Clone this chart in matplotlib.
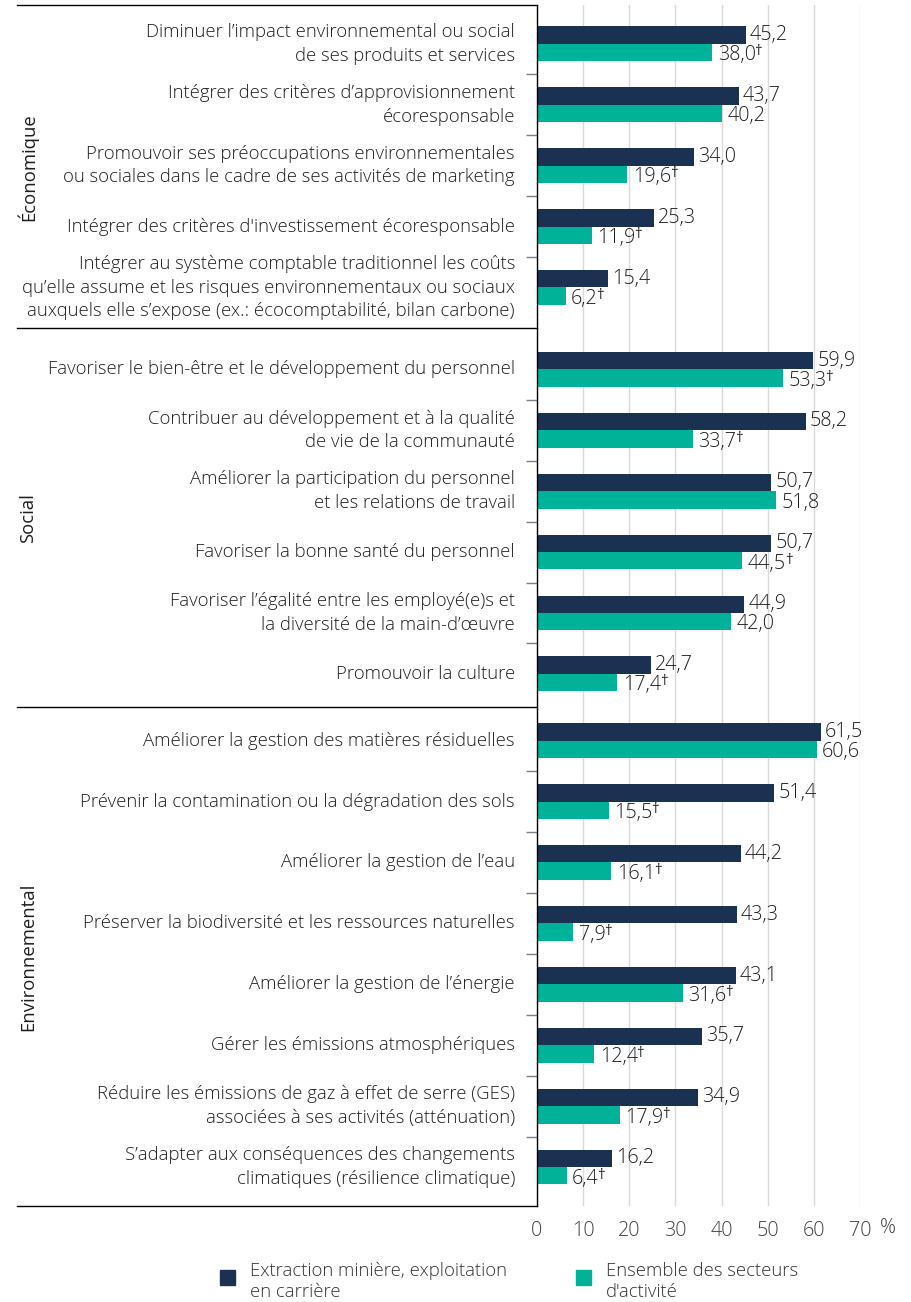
import matplotlib
matplotlib.use('Agg')
import matplotlib.pyplot as plt
from matplotlib.patches import Rectangle
import matplotlib.transforms as mtransforms

plt.rcParams['font.family'] = ['Open Sans', 'DejaVu Sans']

groups = ['Économique', 'Social', 'Environnemental']
group_sizes = [5, 6, 8]

categories = [
    "Diminuer l’impact environnemental ou social\nde ses produits et services",
    "Intégrer des critères d’approvisionnement\nécoresponsable",
    "Promouvoir ses préoccupations environnementales\nou sociales dans le cadre de ses activités de marketing",
    "Intégrer des critères d'investissement écoresponsable",
    "Intégrer au système comptable traditionnel les coûts\nqu’elle assume et les risques environnementaux ou sociaux\nauxquels elle s’expose (ex.: écocomptabilité, bilan carbone)",
    "Favoriser le bien-être et le développement du personnel",
    "Contribuer au développement et à la qualité\nde vie de la communauté",
    "Améliorer la participation du personnel\net les relations de travail",
    "Favoriser la bonne santé du personnel",
    "Favoriser l’égalité entre les employé(e)s et\nla diversité de la main-d’œuvre",
    "Promouvoir la culture",
    "Améliorer la gestion des matières résiduelles",
    "Prévenir la contamination ou la dégradation des sols",
    "Améliorer la gestion de l’eau",
    "Préserver la biodiversité et les ressources naturelles",
    "Améliorer la gestion de l’énergie",
    "Gérer les émissions atmosphériques",
    "Réduire les émissions de gaz à effet de serre (GES)\nassociées à ses activités (atténuation)",
    "S’adapter aux conséquences des changements\nclimatiques (résilience climatique)",
]

mining = [45.2, 43.7, 34.0, 25.3, 15.4,
          59.9, 58.2, 50.7, 50.7, 44.9, 24.7,
          61.5, 51.4, 44.2, 43.3, 43.1, 35.7, 34.9, 16.2]
all_sectors = [38.0, 40.2, 19.6, 11.9, 6.2,
               53.3, 33.7, 51.8, 44.5, 42.0, 17.4,
               60.6, 15.5, 16.1, 7.9, 31.6, 12.4, 17.9, 6.4]
significant = [True, False, True, True, True,
               True, True, False, True, False, True,
               False, True, True, True, True, True, True, True]

series_names = ['Extraction minière, exploitation\nen carrière', 'Ensemble des secteurs\nd\'activité']
xticks = [0, 10, 20, 30, 40, 50, 60, 70]

navy = '#1b3152'
teal = '#00b398'
text_col = '#1e1e1e'
wt = 'light'

# row positions with small extra gap between groups
group_gaps = [0.343, 0.095]
pos = []
starts = []
y = 0.0
for g, n in enumerate(group_sizes):
    starts.append(y)
    for i in range(n):
        pos.append(y + i)
    y = y + n
    if g < len(group_gaps):
        y += group_gaps[g]

fig = plt.figure(figsize=(9.12, 13.02), dpi=100)
ax = fig.add_axes([537 / 912, 1 - 1206 / 1302, 323 / 912, (1206 - 5) / 1302])

bh = 0.286
ax.barh([p - bh / 2 for p in pos], mining, height=bh, color=navy, zorder=3)
ax.barh([p + bh / 2 for p in pos], all_sectors, height=bh, color=teal, zorder=3)

y_top = -0.637
y_bot = pos[-1] + 0.64
ax.set_ylim(y_bot, y_top)
ax.set_xlim(0, 70)

lab_fs = 13.3
val_fs = 14.2
for p, v in zip(pos, mining):
    ax.annotate(f'{v:.1f}'.replace('.', ','), xy=(v, p - bh / 2), xytext=(3, 0),
                textcoords='offset points', va='center', ha='left', fontsize=val_fs,
                color=text_col, fontweight=wt)
for p, v, s in zip(pos, all_sectors, significant):
    t = ax.annotate(f'{v:.1f}'.replace('.', ','), xy=(v, p + bh / 2), xytext=(4, -2),
                    textcoords='offset points', va='center', ha='left', fontsize=val_fs,
                    color=text_col, fontweight=wt)
    if s:
        ax.annotate('†', xy=(1, 0.3), xycoords=t, xytext=(-1, 0), textcoords='offset points',
                    va='bottom', ha='left', fontsize=11, color=text_col)

# category labels
lab_tr = mtransforms.blended_transform_factory(ax.transAxes, ax.transData)
for p, c in zip(pos, categories):
    ax.text(-22 / 323, p, c, transform=lab_tr, ha='right', va='center',
            multialignment='right', fontsize=lab_fs, color=text_col, linespacing=1.4,
            fontweight=wt)

# group separators and group names
x_line = (17 - 537) / 323
bounds = [y_top]
for g in range(len(group_sizes) - 1):
    last = starts[g] + group_sizes[g] - 1
    bounds.append((last + starts[g + 1]) / 2)
bounds.append(y_bot)
for b in bounds:
    ax.plot([x_line, 0], [b, b], transform=lab_tr, color='black', lw=1.0, clip_on=False)
for g, name in enumerate(groups):
    mid = (bounds[g] + bounds[g + 1]) / 2
    ax.text((28 - 537) / 323, mid, name, transform=lab_tr, rotation=90, ha='center', va='center',
            fontsize=lab_fs, color=text_col)

# small ticks between rows inside a group
minor = []
for g, n in enumerate(group_sizes):
    for i in range(n - 1):
        minor.append(starts[g] + i + 0.5)
ax.set_yticks(minor)
ax.set_yticklabels([])
ax.tick_params(axis='y', length=8, color='#7f7f7f', width=1)

ax.set_xticks(xticks)
ax.set_xticklabels([str(v) for v in xticks], fontsize=val_fs, color='#404040', fontweight=wt)
ax.tick_params(axis='x', length=0, pad=11)
ax.grid(axis='x', color='#d9d9d9', lw=1, zorder=0)
for sp in ['top', 'right', 'bottom']:
    ax.spines[sp].set_visible(False)
ax.spines['left'].set_color('black')
ax.spines['left'].set_linewidth(1.0)
ax.spines['left'].set_zorder(4)
fig.text(888 / 912, 1 - 1228 / 1302, '%', ha='center', va='center', fontsize=val_fs,
         color='#404040', fontweight=wt)

# legend
for x0, col, name in [(220, navy, series_names[0]), (576, teal, series_names[1])]:
    fig.add_artist(Rectangle((x0 / 912, 1 - 1285 / 1302), 15 / 912, 15 / 1302,
                             transform=fig.transFigure, color=col))
    fig.text((x0 + 30) / 912, 1 - 1262 / 1302, name, ha='left', va='top', fontsize=lab_fs,
             color='#333333', linespacing=1.2, fontweight=wt)

fig.savefig('out.png', dpi=100)
